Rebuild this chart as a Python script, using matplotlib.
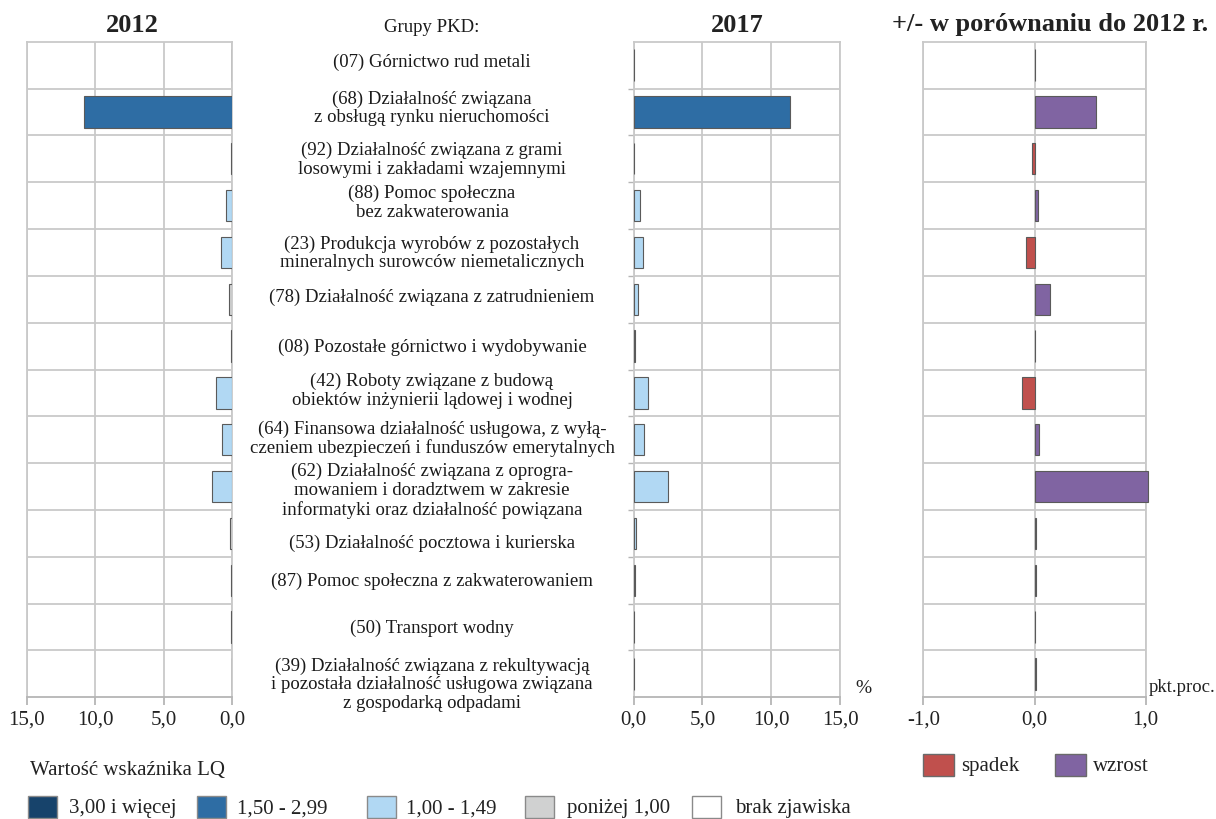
import numpy as np
import matplotlib
matplotlib.use("Agg")
import matplotlib.pyplot as plt
from matplotlib.patches import Rectangle
from matplotlib.transforms import blended_transform_factory
from matplotlib.ticker import FuncFormatter

plt.rcParams['font.family'] = ['Liberation Serif', 'DejaVu Serif']

# ---------------- data ----------------
groups = [
    "(07) Górnictwo rud metali",
    "(68) Działalność związana\nz obsługą rynku nieruchomości",
    "(92) Działalność związana z grami\nlosowymi i zakładami wzajemnymi",
    "(88) Pomoc społeczna\nbez zakwaterowania",
    "(23) Produkcja wyrobów z pozostałych\nmineralnych surowców niemetalicznych",
    "(78) Działalność związana z zatrudnieniem",
    "(08) Pozostałe górnictwo i wydobywanie",
    "(42) Roboty związane z budową\nobiektów inżynierii lądowej i wodnej",
    "(64) Finansowa działalność usługowa, z wyłą-\nczeniem ubezpieczeń i funduszów emerytalnych",
    "(62) Działalność związana z oprogra-\nmowaniem i doradztwem w zakresie\ninformatyki oraz działalność powiązana",
    "(53) Działalność pocztowa i kurierska",
    "(87) Pomoc społeczna z zakwaterowaniem",
    "(50) Transport wodny",
    "(39) Działalność związana z rekultywacją\ni pozostała działalność usługowa związana\nz gospodarką odpadami",
]

share_2012 = [0.02, 10.83, 0.05, 0.46, 0.82, 0.22, 0.10, 1.17, 0.71, 1.48, 0.17, 0.08, 0.05, 0.02]
lq_class_2012 = ["1,00 - 1,49", "1,50 - 2,99", "1,00 - 1,49", "1,00 - 1,49", "1,00 - 1,49",
                 "poniżej 1,00", "poniżej 1,00", "1,00 - 1,49", "1,00 - 1,49", "1,00 - 1,49",
                 "poniżej 1,00", "poniżej 1,00", "poniżej 1,00", "1,00 - 1,49"]

share_2017 = [0.02, 11.39, 0.03, 0.46, 0.70, 0.29, 0.12, 1.02, 0.73, 2.50, 0.17, 0.10, 0.03, 0.03]
lq_class_2017 = ["poniżej 1,00", "1,50 - 2,99", "poniżej 1,00", "1,00 - 1,49", "1,00 - 1,49",
                 "1,00 - 1,49", "poniżej 1,00", "1,00 - 1,49", "1,00 - 1,49", "1,00 - 1,49",
                 "1,00 - 1,49", "poniżej 1,00", "poniżej 1,00", "poniżej 1,00"]

change = [0.005, 0.55, -0.02, 0.03, -0.08, 0.135, 0.005, -0.11, 0.04, 1.02, 0.01, 0.01, 0.003, 0.01]

lq_legend = ["3,00 i więcej", "1,50 - 2,99", "1,00 - 1,49", "poniżej 1,00", "brak zjawiska"]
lq_colors = {"3,00 i więcej": "#17436b", "1,50 - 2,99": "#2e6da4", "1,00 - 1,49": "#b1d8f3",
             "poniżej 1,00": "#d0d1d1", "brak zjawiska": "#ffffff"}
change_legend = ["spadek", "wzrost"]
change_colors = {"spadek": "#c0504d", "wzrost": "#8064a2"}

ticks_lq = [0, 5, 10, 15]
ticks_change = [-1, 0, 1]

# vertical nudges of the group labels (in row units, layout only)
label_nudge = [-0.07, -0.1, 0.0, -0.08, 0.0, -0.07, 0.0, -0.07, -0.04, 0.07, 0.19, 0.0, 0.0, 0.21]

# ---------------- figure ----------------
W, H = 1216, 820
fig = plt.figure(figsize=(W / 100, H / 100), dpi=100)

def px_axes(left, right, top, bottom):
    return fig.add_axes([left / W, 1 - bottom / H, (right - left) / W, (bottom - top) / H])

TOP, BOT = 42.7, 698.3
ax1 = px_axes(26.7, 232.0, TOP, BOT)
ax2 = px_axes(633.7, 840.0, TOP, BOT)
ax3 = px_axes(923.3, 1145.7, TOP, BOT)

n = len(groups)
ypos = np.arange(n)
grid_c = "#c9c9c9"
edge_c = "#5a5a5a"
bar_h = 0.67
comma = FuncFormatter(lambda v, p: f"{v:.1f}".replace(".", ","))

def style(ax, xlim, xticks, left_ticks=False):
    ax.set_xlim(*xlim)
    ax.set_ylim(n - 0.5, -0.5)
    ax.set_xticks(xticks)
    ax.xaxis.set_major_formatter(comma)
    ax.set_yticks(np.arange(0.5, n - 0.5, 1))
    ax.set_yticklabels([])
    ax.grid(True, color=grid_c, linewidth=1.3, zorder=0)
    ax.set_axisbelow(True)
    for s in ax.spines.values():
        s.set_color(grid_c)
        s.set_linewidth(1.3)
    ax.spines['bottom'].set_color("#b5b5b5")
    ax.tick_params(axis='x', length=6, width=1.3, color="#b5b5b5", labelsize=15,
                   pad=3, labelcolor="#222222")
    if left_ticks:
        ax.tick_params(axis='y', length=4, width=1.0, color="#b5b5b5")
    else:
        ax.tick_params(axis='y', length=0)

style(ax1, (15, 0), ticks_lq)
style(ax2, (0, 15), ticks_lq, left_ticks=True)
style(ax3, (-1, 1), ticks_change)

ax1.barh(ypos, share_2012, height=bar_h, color=[lq_colors[c] for c in lq_class_2012],
         edgecolor=edge_c, linewidth=0.8, zorder=3)
ax2.barh(ypos, share_2017, height=bar_h, color=[lq_colors[c] for c in lq_class_2017],
         edgecolor=edge_c, linewidth=0.8, zorder=3)
bars3 = ax3.barh(ypos, change, height=bar_h,
                 color=[change_colors["wzrost"] if v >= 0 else change_colors["spadek"] for v in change],
                 edgecolor=edge_c, linewidth=0.8, zorder=3)
for b in bars3:
    b.set_clip_on(False)

# group labels in the middle
tr = blended_transform_factory(fig.transFigure, ax1.transData)
for i, g in enumerate(groups):
    fig.text(432 / W, i + label_nudge[i], g, transform=tr, ha='center', va='center',
             fontsize=13.5, linespacing=1.12, color="#1a1a1a")

# titles
def ftext(x, y, s, **kw):
    fig.text(x / W, 1 - y / H, s, **kw)

ftext(132, 25, "2012", ha='center', va='center', fontsize=19, fontweight='bold', color="#222222")
ftext(737, 25, "2017", ha='center', va='center', fontsize=19, fontweight='bold', color="#222222")
ftext(1050, 25, "+/- w porównaniu do 2012 r.", ha='center', va='center', fontsize=19,
      fontweight='bold', color="#222222")
ftext(432, 27, "Grupy PKD:", ha='center', va='center', fontsize=13.5, color="#1a1a1a")
ftext(863, 689, "%", ha='center', va='center', fontsize=14, color="#222222")
ftext(1149, 688, "pkt.proc.", ha='left', va='center', fontsize=13.5, color="#222222")

# LQ legend
ftext(30, 771, "Wartość wskaźnika LQ", ha='left', va='center', fontsize=15, color="#222222")
sq_x = [28, 197, 367, 525, 692]
tx_x = [69, 237, 406, 567, 735]
for lab, sx, tx in zip(lq_legend, sq_x, tx_x):
    fig.patches.append(Rectangle((sx / W, 1 - 819 / H), 29 / W, 22 / H,
                                 transform=fig.transFigure, facecolor=lq_colors[lab],
                                 edgecolor="#8a8a8a", linewidth=1.0))
    ftext(tx, 809, lab, ha='left', va='center', fontsize=15, color="#222222")

# change legend
for lab, sx, tx in zip(change_legend, [923, 1055], [961, 1093]):
    fig.patches.append(Rectangle((sx / W, 1 - 777 / H), 31 / W, 22 / H,
                                 transform=fig.transFigure, facecolor=change_colors[lab],
                                 edgecolor="#6a6a6a", linewidth=1.0))
    ftext(tx, 767, lab, ha='left', va='center', fontsize=15, color="#222222")

fig.savefig("out.png", dpi=100, facecolor="white")
